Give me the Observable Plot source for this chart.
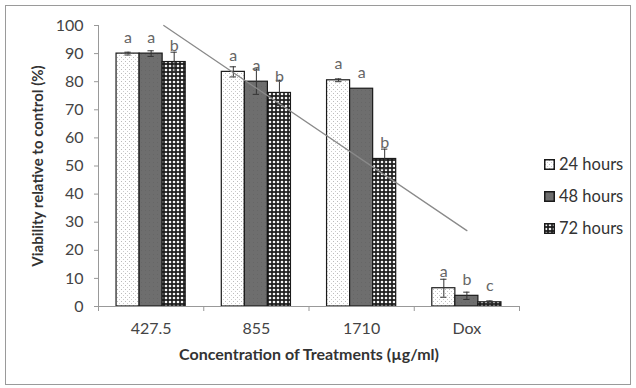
<!DOCTYPE html>
<html>
<head>
<meta charset="utf-8">
<script src="https://cdn.jsdelivr.net/npm/d3@7"></script>
<script src="https://cdn.jsdelivr.net/npm/@observablehq/plot@0.6"></script>
<style>
  body { margin: 0; background: #fff; }
  #wrap { position: relative; width: 636px; height: 388px; font-family: Lato, "Noto Sans", sans-serif; }
  #frame { position: absolute; left: 5px; top: 5px; width: 626px; height: 380px; border: 1.5px solid #9a9a9a; box-sizing: border-box; pointer-events: none; }
  #legend { position: absolute; left: 544px; top: 148px; font-size: 16.5px; color: #333; }
  #legend div { display: flex; align-items: center; height: 32px; }
  #legend svg { margin-right: 4px; }
</style>
</head>
<body>
<div id="wrap"><div id="frame"></div><div id="legend"></div></div>
<script>
const categories = ["427.5", "855", "1710", "Dox"];
const series = ["24 hours", "48 hours", "72 hours"];
const v24 = [90, 83.5, 80.5, 6.5];
const v48 = [90, 80, 77.5, 3.8];
const v72 = [87, 76, 52.5, 1.5];
const e24 = [0.5, 1.8, 0.5, 3.2];
const e48 = [1, 4.5, 0, 1.3];
const e72 = [3.5, 4.5, 3.5, 0.5];
const l24 = ["a", "a", "a", "a"];
const l48 = ["a", "a", "a", "b"];
const l72 = ["b", "b", "b", "c"];
const trendX = [0.62, 3.5];
const trendY = [100, 27];
const yTicks = [0, 10, 20, 30, 40, 50, 60, 70, 80, 90, 100];

const fills = ["url(#p24)", "url(#p48)", "url(#p72)"];
const values = [v24, v48, v72];
const errs = [e24, e48, e72];
const letters = [l24, l48, l72];

const barW = 0.219, outer = (1 - 3 * barW) / 2;
const rows = [];
series.forEach((s, j) => categories.forEach((c, i) => {
  const x1 = i + outer + j * barW;
  rows.push({s, j, c, x1, x2: x1 + barW, cx: x1 + barW / 2, v: values[j][i], e: errs[j][i], l: letters[j][i]});
}));
const trend = trendX.map((x, k) => ({x, y: trendY[k]}));

const cap = 0.03;
const marks = [];
series.forEach((s, j) => {
  marks.push(Plot.rectY(rows.filter(d => d.j === j), {x1: "x1", x2: "x2", y1: 0, y2: "v", fill: fills[j], stroke: "#1a1a1a", strokeWidth: 1.2}));
});
marks.push(
  Plot.ruleX(rows.filter(d => d.e > 0), {x: "cx", y1: d => d.v - d.e, y2: d => d.v + d.e, stroke: "#333", strokeWidth: 1}),
  Plot.ruleY(rows.filter(d => d.e > 0), {y: d => d.v + d.e, x1: d => d.cx - cap, x2: d => d.cx + cap, stroke: "#333", strokeWidth: 1}),
  Plot.ruleY(rows.filter(d => d.e > 0), {y: d => d.v - d.e, x1: d => d.cx - cap, x2: d => d.cx + cap, stroke: "#333", strokeWidth: 1}),
  Plot.text(rows, {x: "cx", y: "v", text: "l", dy: -16, fontSize: 16, fill: "#666"}),
  Plot.line(trend, {x: "x", y: "y", stroke: "#8a8a8a", strokeWidth: 1.3}),
  Plot.ruleX([0], {stroke: "#999"}),
  Plot.ruleY([0], {stroke: "#999"}),
  Plot.axisY({ticks: yTicks, tickSize: 4, tickPadding: 11, fontSize: 16, color: "#444", stroke: "#999", label: null}),
  Plot.axisX({ticks: [0, 1, 2, 3, 4], tickSize: 5, tickFormat: () => "", stroke: "#999", label: null}),
  Plot.axisX({ticks: [0.5, 1.5, 2.5, 3.5], tickSize: 0, tickPadding: 16, tickFormat: d => categories[Math.floor(d)], fontSize: 16, color: "#444", label: null}),
  Plot.text(["Viability relative to control (%)"], {frameAnchor: "left", textAnchor: "middle", dx: -60, rotate: -90, fontSize: 15, fontWeight: "bold", fill: "#333"}),
  Plot.text(["Concentration of Treatments (µg/ml)"], {frameAnchor: "bottom", dy: 53, fontSize: 16, fontWeight: "bold", fill: "#333"})
);

const plot = Plot.plot({
  width: 636,
  height: 388,
  marginLeft: 98,
  marginRight: 117,
  marginTop: 25,
  marginBottom: 82,
  style: {fontFamily: "Lato, 'Noto Sans', sans-serif", background: "transparent"},
  x: {type: "linear", domain: [0, 4], axis: null},
  y: {domain: [0, 100], axis: null},
  marks
});

const defs = `
<pattern id="p24" width="4" height="4" patternUnits="userSpaceOnUse">
  <rect width="4" height="4" fill="#fff"/>
  <rect x="1" y="1" width="1" height="1" fill="#bbb"/>
  <rect x="3" y="3" width="1" height="1" fill="#ccc"/>
</pattern>
<pattern id="p48" width="4" height="4" patternUnits="userSpaceOnUse">
  <rect width="4" height="4" fill="#6e6e6e"/>
  <rect x="1" y="2" width="1" height="1" fill="#666"/>
</pattern>
<pattern id="p72" width="4" height="4" patternUnits="userSpaceOnUse">
  <rect width="4" height="4" fill="#1e1e1e"/>
  <circle cx="2" cy="2" r="1.3" fill="#f4f4f4"/>
</pattern>`;
const d = document.createElementNS("http://www.w3.org/2000/svg", "defs");
d.innerHTML = defs;
plot.insertBefore(d, plot.firstChild);

const wrap = document.getElementById("wrap");
wrap.insertBefore(plot, wrap.firstChild);
plot.style.position = "absolute";
plot.style.left = "0";
plot.style.top = "0";

const legend = document.getElementById("legend");
series.forEach((s, j) => {
  const row = document.createElement("div");
  row.innerHTML = `<svg width="11" height="11"><rect x="0.75" y="0.75" width="9.5" height="9.5" fill="${fills[j]}" stroke="#1a1a1a" stroke-width="1.5"/></svg><span>${s}</span>`;
  legend.appendChild(row);
});
</script>
</body>
</html>
